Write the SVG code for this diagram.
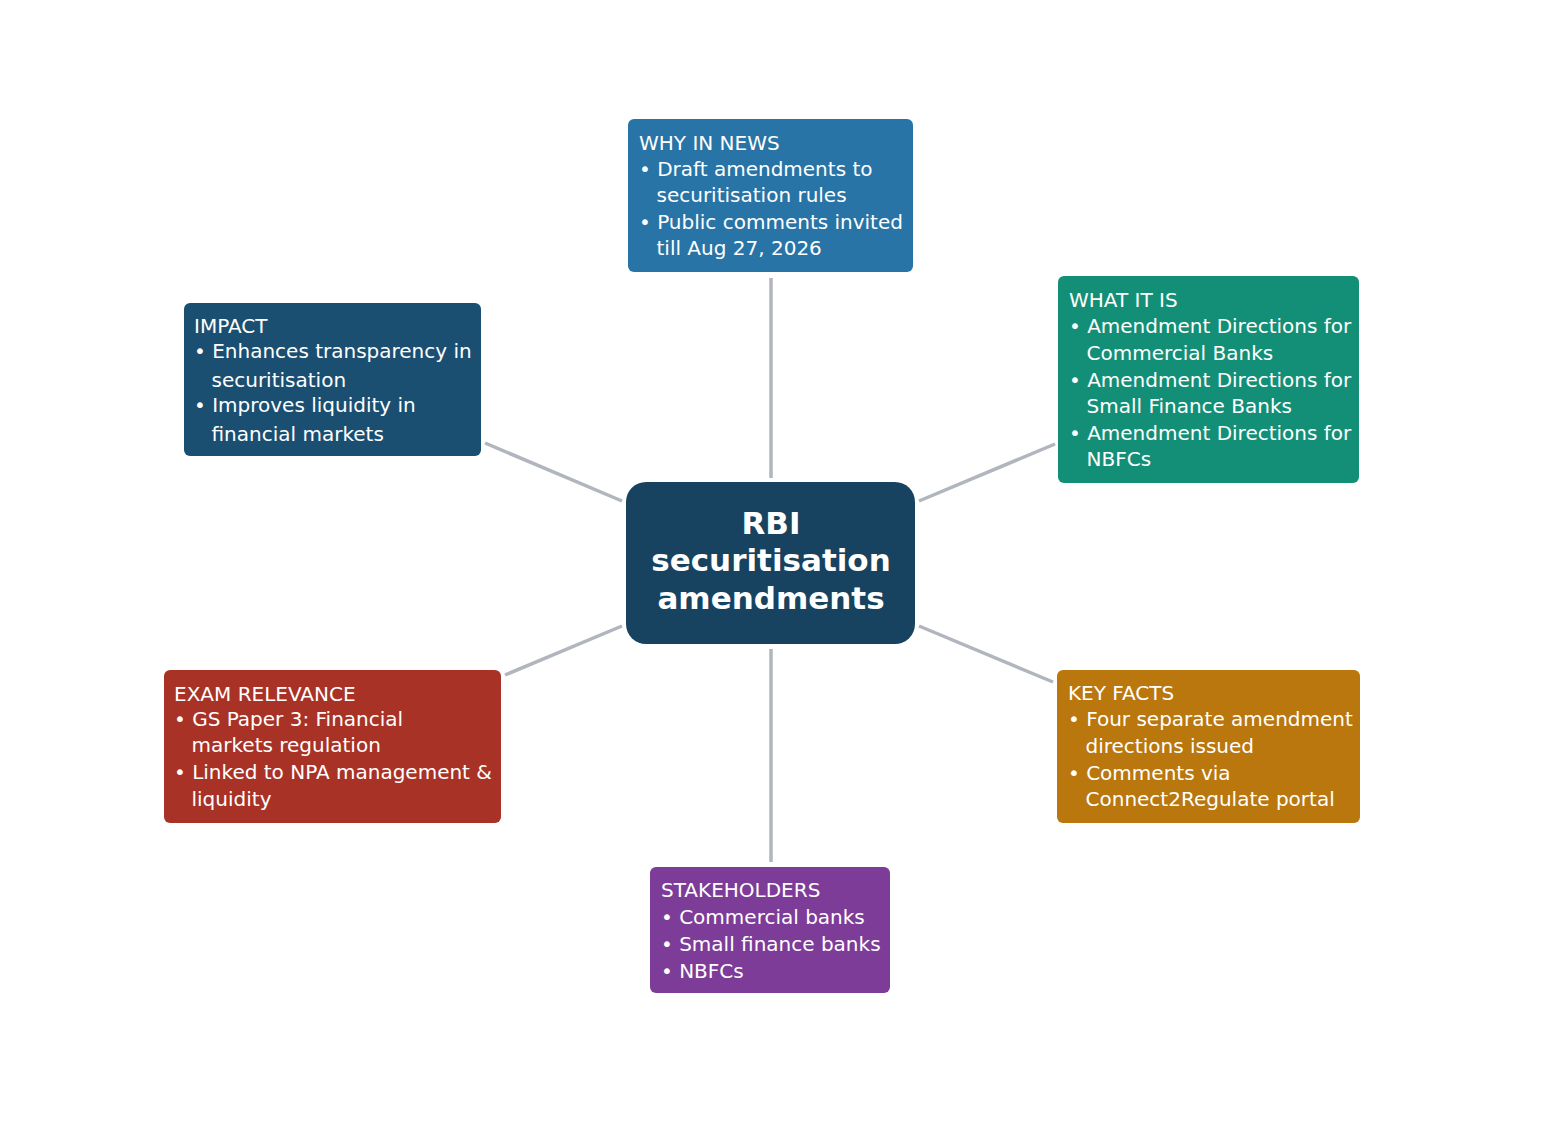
<svg xmlns="http://www.w3.org/2000/svg" width="1541" height="1127" viewBox="0 0 1541 1127">
<style>
.t{font-family:"DejaVu Sans",sans-serif;font-size:20px;fill:#ffffff;}
.c{font-family:"DejaVu Sans",sans-serif;font-size:31px;font-weight:bold;fill:#ffffff;text-anchor:middle;}
.ln{stroke:#b1b6be;stroke-width:3.5;fill:none;stroke-linecap:butt;}
</style>
<rect width="1541" height="1127" fill="#ffffff"/>
<g id="connectors">
<line class="ln" x1="771" y1="278" x2="771" y2="478"/>
<line class="ln" x1="771" y1="649" x2="771" y2="862"/>
<line class="ln" x1="485" y1="443" x2="622" y2="501"/>
<line class="ln" x1="919" y1="501" x2="1055" y2="444"/>
<line class="ln" x1="622" y1="626" x2="505" y2="675"/>
<line class="ln" x1="919" y1="626" x2="1053" y2="682"/>
</g>
<g id="center">
<rect x="626" y="482" width="289" height="162" rx="20" fill="#174360"/>
<text class="c" x="771" y="534">RBI</text>
<text class="c" x="771" y="571">securitisation</text>
<text class="c" x="771" y="608.5">amendments</text>
</g>
<g id="why">
<rect x="628" y="119" width="285" height="153" rx="6" fill="#2874a6"/>
<text class="t" x="639" y="149.5">WHY IN NEWS</text>
<text class="t" x="639" y="176">• Draft amendments to</text>
<text class="t" x="656.5" y="202">securitisation rules</text>
<text class="t" x="639" y="229">• Public comments invited</text>
<text class="t" x="656.5" y="254.5">till Aug 27, 2026</text>
</g>
<g id="what">
<rect x="1058" y="276" width="301" height="207" rx="6" fill="#148f77"/>
<text class="t" x="1069" y="306.5">WHAT IT IS</text>
<text class="t" x="1069" y="333.3">• Amendment Directions for</text>
<text class="t" x="1086.5" y="360">Commercial Banks</text>
<text class="t" x="1069" y="386.7">• Amendment Directions for</text>
<text class="t" x="1086.5" y="413">Small Finance Banks</text>
<text class="t" x="1069" y="440">• Amendment Directions for</text>
<text class="t" x="1086.5" y="466.3">NBFCs</text>
</g>
<g id="impact">
<rect x="184" y="303" width="297" height="153" rx="6" fill="#1b4f72"/>
<text class="t" x="194" y="333.3">IMPACT</text>
<text class="t" x="194" y="358.3">• Enhances transparency in</text>
<text class="t" x="211.5" y="386.7">securitisation</text>
<text class="t" x="194" y="412.3">• Improves liquidity in</text>
<text class="t" x="211.5" y="440.5">financial markets</text>
</g>
<g id="exam">
<rect x="164" y="670" width="337" height="153" rx="6" fill="#a93226"/>
<text class="t" x="174" y="700.5">EXAM RELEVANCE</text>
<text class="t" x="174" y="725.7">• GS Paper 3: Financial</text>
<text class="t" x="191.5" y="751.7">markets regulation</text>
<text class="t" x="174" y="779">• Linked to NPA management &amp;</text>
<text class="t" x="191.5" y="805.5">liquidity</text>
</g>
<g id="keyfacts">
<rect x="1057" y="670" width="303" height="153" rx="6" fill="#b9770e"/>
<text class="t" x="1068" y="700">KEY FACTS</text>
<text class="t" x="1068" y="725.7">• Four separate amendment</text>
<text class="t" x="1085.5" y="753.3">directions issued</text>
<text class="t" x="1068" y="780">• Comments via</text>
<text class="t" x="1085.5" y="805.5">Connect2Regulate portal</text>
</g>
<g id="stakeholders">
<rect x="650" y="867" width="240" height="126" rx="6" fill="#7d3c98"/>
<text class="t" x="661" y="896.5">STAKEHOLDERS</text>
<text class="t" x="661" y="924">• Commercial banks</text>
<text class="t" x="661" y="950.7">• Small finance banks</text>
<text class="t" x="661" y="977.5">• NBFCs</text>
</g>
</svg>
